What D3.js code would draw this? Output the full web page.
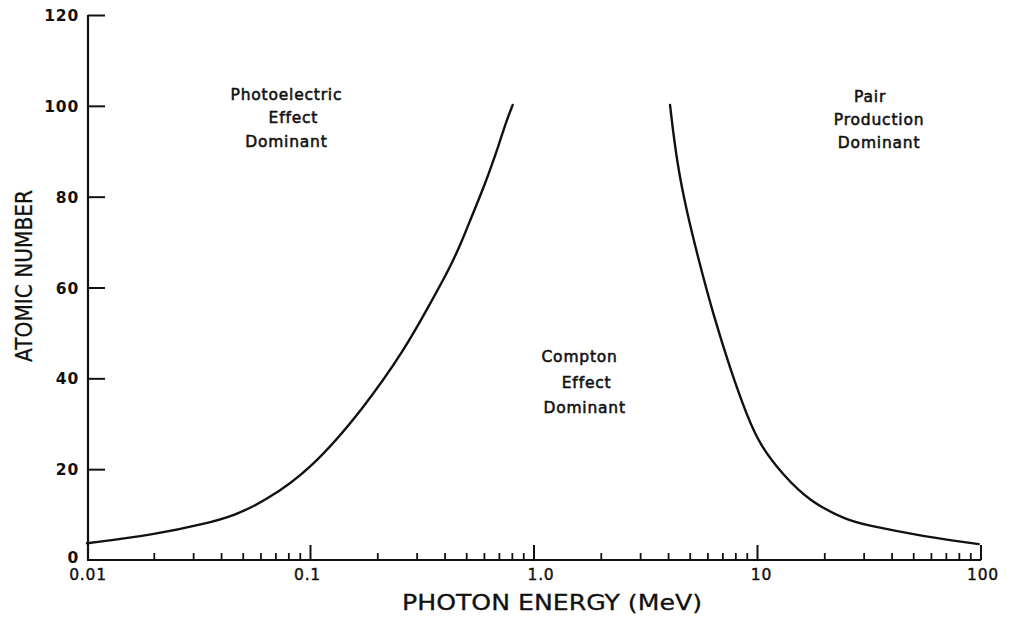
<!DOCTYPE html>
<html>
<head>
<meta charset="utf-8">
<script src="https://cdn.jsdelivr.net/npm/d3@7"></script>
<style>
  html, body { margin: 0; padding: 0; background: #fff; }
  svg { display: block; }
  text { font-family: "DejaVu Sans", sans-serif; fill: #111; }
</style>
</head>
<body>
<svg id="chart" width="1019" height="617"></svg>
<script>
// Photoelectric / Compton boundary (energy MeV, atomic number Z)
const photoCompton = [
  [0.01, 3.7], [0.0197, 5.5], [0.0346, 8.1], [0.0455, 9.8], [0.0617, 12.8],
  [0.1, 19.8], [0.173, 33.4], [0.265, 46.5], [0.34, 56.1],
  [0.421, 64.4], [0.475, 70.1], [0.526, 75.6], [0.583, 80.9], [0.636, 85.9],
  [0.692, 91.0], [0.755, 96.9], [0.803, 100.2]
];
// Compton / Pair production boundary
const comptonPair = [
  [4.06, 100.2], [4.35, 87.7], [4.82, 76.7], [5.53, 64.9], [6.34, 54.1],
  [7.53, 42.2], [8.95, 31.9], [10.26, 25.3], [13.0, 18.7], [17.2, 12.8],
  [25.1, 8.8], [30.5, 7.7], [56.5, 5.1], [97.7, 3.5]
];
const xTickValues = [0.01, 0.1, 1, 10, 100];
const xTickLabels = ["0.01", "0.1", "1.0", "10", "100"];
const yTickValues = [0, 20, 40, 60, 80, 100, 120];
const regionLabels = [
  { lines: ["Photoelectric", "Effect", "Dominant"], e: 0.078, z: 101.3, dx: [0, 7, 0], gap: 23.5 },
  { lines: ["Compton", "Effect", "Dominant"], e: 1.6, z: 43.5, dx: [0, 7, 5], gap: 25.5 },
  { lines: ["Pair", "Production", "Dominant"], e: 35, z: 100.9, dx: [-9, 0, 0], gap: 23 }
];

const svg = d3.select("#chart");
const x = d3.scaleLog().domain([0.01, 100]).range([87, 981]);
const y = d3.scaleLinear().domain([0, 120]).range([560, 15]);

const ink = "#111";

// Y axis
const yAxis = d3.axisRight(y).tickValues(yTickValues.filter(v => v > 0)).tickSize(17).tickFormat("");
const gy = svg.append("g").attr("transform", `translate(${x(0.01) + 1},0)`).call(yAxis);
gy.select(".domain").attr("d", `M0,${y(0)}V${y(120)}`).attr("stroke", ink).attr("stroke-width", 2.2);
gy.selectAll(".tick line").attr("stroke", ink).attr("stroke-width", 2);

// Y tick labels
svg.append("g").selectAll("text").data(yTickValues).join("text")
  .attr("x", 79).attr("y", d => y(d) + 6 + (d === 0 ? -3 : 0))
  .attr("text-anchor", "end").attr("font-size", 15.5).attr("letter-spacing", 0.8)
  .attr("font-weight", "bold")
  .text(d => d);

// X axis: minor ticks
const minor = [];
for (let p = -2; p < 2; p++) for (let m = 2; m <= 9; m++) minor.push(m * Math.pow(10, p));
const gx = svg.append("g").attr("transform", `translate(0,${y(0)})`);
gx.append("path").attr("d", `M${x(0.01)},0H${x(100)}`).attr("stroke", ink).attr("stroke-width", 2.2).attr("fill", "none");
gx.selectAll("line.minor").data(minor).join("line").attr("class", "minor")
  .attr("x1", d => x(d)).attr("x2", d => x(d)).attr("y1", 0).attr("y2", -7)
  .attr("stroke", ink).attr("stroke-width", 1.8);
gx.selectAll("line.major").data(xTickValues.slice(1)).join("line").attr("class", "major")
  .attr("x1", d => x(d)).attr("x2", d => x(d)).attr("y1", 0).attr("y2", -15)
  .attr("stroke", ink).attr("stroke-width", 2);
gx.selectAll("text").data(xTickValues).join("text")
  .attr("x", (d, i) => x(d) + [1, -3, 7, 4, 2][i]).attr("y", 20)
  .attr("text-anchor", "middle").attr("font-size", 15.5).attr("letter-spacing", 0.8)
  .attr("stroke", ink).attr("stroke-width", 0.4)
  .text((d, i) => xTickLabels[i]);

// Axis titles
svg.append("text").attr("x", 552).attr("y", 610).attr("text-anchor", "middle")
  .attr("font-size", 21).attr("textLength", 300).attr("lengthAdjust", "spacingAndGlyphs")
  .attr("stroke", ink).attr("stroke-width", 0.3)
  .text("PHOTON  ENERGY  (MeV)");
svg.append("text").attr("transform", "translate(32,276) rotate(-90)").attr("text-anchor", "middle")
  .attr("font-size", 23).attr("textLength", 172).attr("lengthAdjust", "spacingAndGlyphs")
  .attr("stroke", ink).attr("stroke-width", 0.3)
  .text("ATOMIC NUMBER");

// Curves
const line = d3.line().x(d => x(d[0])).y(d => y(d[1])).curve(d3.curveBasis);
[photoCompton, comptonPair].forEach(data => {
  svg.append("path").datum(data).attr("d", line)
    .attr("fill", "none").attr("stroke", ink).attr("stroke-width", 2.4).attr("stroke-linecap", "round");
});

// Region labels
regionLabels.forEach(r => {
  const t = svg.append("text").attr("font-size", 15.5)
    .attr("stroke", ink).attr("stroke-width", 0.55)
    .attr("letter-spacing", 0.8).attr("text-anchor", "middle");
  r.lines.forEach((s, i) => {
    t.append("tspan").attr("x", x(r.e) + r.dx[i]).attr("y", y(r.z) + i * r.gap).text(s);
  });
});
</script>
</body>
</html>
